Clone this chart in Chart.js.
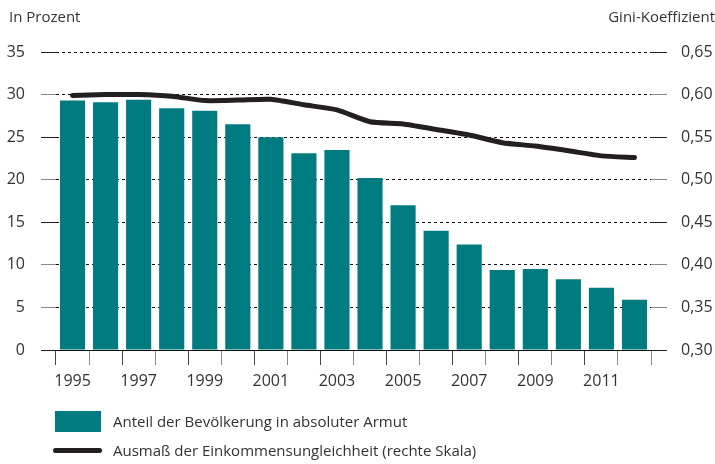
<!DOCTYPE html>
<html>
<head>
<meta charset="utf-8">
<script src="https://cdn.jsdelivr.net/npm/chart.js@4.4.1/dist/chart.umd.min.js"></script>
<style>
  html, body { margin: 0; padding: 0; background: #fff; }
  #wrap { position: relative; width: 715px; height: 464px; font-family: "Open Sans", sans-serif; color: #333; }
  canvas { position: absolute; left: 0; top: 0; }
  .lbl { position: absolute; font-size: 15px; white-space: nowrap; }
  .leg { position: absolute; font-size: 15px; white-space: nowrap; }
  .box { position: absolute; background: #007c80; }
  .ln { position: absolute; background: #231f20; border-radius: 3px; }
</style>
</head>
<body>
<div id="wrap">
  <canvas id="chart" width="715" height="464"></canvas>
  <div class="lbl" style="left:9px; top:6px;">In Prozent</div>
  <div class="lbl" style="right:0px; top:6px;">Gini-Koeffizient</div>
  <div class="box" style="left:55px; top:411px; width:46px; height:21px;"></div>
  <div class="leg" style="left:113px; top:411px;">Anteil der Bevölkerung in absoluter Armut</div>
  <div class="ln" style="left:53px; top:448px; width:49px; height:5px;"></div>
  <div class="leg" style="left:113px; top:440px;">Ausmaß der Einkommensungleichheit (rechte Skala)</div>
</div>
<script>
const years = ["1995", "1996", "1997", "1998", "1999", "2000", "2001", "2002", "2003",
               "2004", "2005", "2006", "2007", "2008", "2009", "2010", "2011", "2012"];
const povertyShare = [29.3, 29.1, 29.4, 28.4, 28.1, 26.5, 25.0, 23.1, 23.5,
                      20.2, 17.0, 14.0, 12.4, 9.4, 9.5, 8.3, 7.3, 5.9];
const giniCoef = [0.599, 0.600, 0.600, 0.598, 0.593, 0.5935, 0.5945, 0.588, 0.582,
                  0.568, 0.5655, 0.559, 0.5525, 0.5435, 0.5395, 0.534, 0.528, 0.526];

const tealColor = "#007c80";
const darkColor = "#231f20";
const tickFont = { family: "Open Sans", size: 16 };

// tick marks alternate between black and grey like in the print version
function leftTickColor(ctx) {
  const v = ctx.tick ? ctx.tick.value : 0;
  return (v === 0 || v === 15 || v === 25 || v === 35) ? "#222" : "#888";
}
function rightTickColor(ctx) {
  const v = ctx.tick ? Math.round(ctx.tick.value * 100) : 0;
  return (v === 30 || v === 45 || v === 55 || v === 65) ? "#222" : "#888";
}

const ctx = document.getElementById("chart");
new Chart(ctx, {
  data: {
    labels: years,
    datasets: [
      {
        type: "line",
        label: "Ausmaß der Einkommensungleichheit (rechte Skala)",
        data: giniCoef,
        yAxisID: "y1",
        borderColor: darkColor,
        borderWidth: 5,
        pointRadius: 0,
        tension: 0.2,
        borderCapStyle: "round",
        borderJoinStyle: "round",
        order: 0
      },
      {
        type: "bar",
        label: "Anteil der Bevölkerung in absoluter Armut",
        data: povertyShare,
        yAxisID: "y",
        backgroundColor: tealColor,
        barPercentage: 0.76,
        categoryPercentage: 1.0,
        order: 1
      }
    ]
  },
  options: {
    responsive: false,
    animation: false,
    layout: { padding: { top: 52, bottom: 64, left: 0, right: 0 } },
    plugins: {
      legend: { display: false },
      tooltip: { enabled: false }
    },
    scales: {
      x: {
        offset: true,
        grid: {
          offset: true,
          drawOnChartArea: false,
          tickLength: 15,
          tickColor: (c) => (c.index % 2 === 0 ? "#444" : "#888")
        },
        border: { display: true, color: "#111", width: 1 },
        ticks: {
          autoSkip: false,
          maxRotation: 0,
          padding: 7,
          color: "#333",
          font: tickFont,
          callback: function (val, i) { return i % 2 === 0 ? this.getLabelForValue(val) : ""; }
        },
        afterFit: (s) => { s.height = 50; }
      },
      y: {
        position: "left",
        min: 0,
        max: 35,
        grid: {
          color: "#111",
          lineWidth: 1,
          tickLength: 15,
          tickColor: leftTickColor
        },
        border: { display: false, dash: [3, 3] },
        ticks: {
          stepSize: 5,
          padding: 16,
          color: "#333",
          font: tickFont
        },
        afterFit: (s) => { s.width = 56; }
      },
      y1: {
        position: "right",
        min: 0.30,
        max: 0.65,
        grid: {
          drawOnChartArea: false,
          tickLength: 16,
          tickColor: rightTickColor
        },
        border: { display: false },
        ticks: {
          stepSize: 0.05,
          padding: 14,
          color: "#333",
          font: tickFont,
          callback: (v) => v.toFixed(2).replace(".", ",")
        },
        afterFit: (s) => { s.width = 64; }
      }
    }
  }
});
</script>
</body>
</html>
